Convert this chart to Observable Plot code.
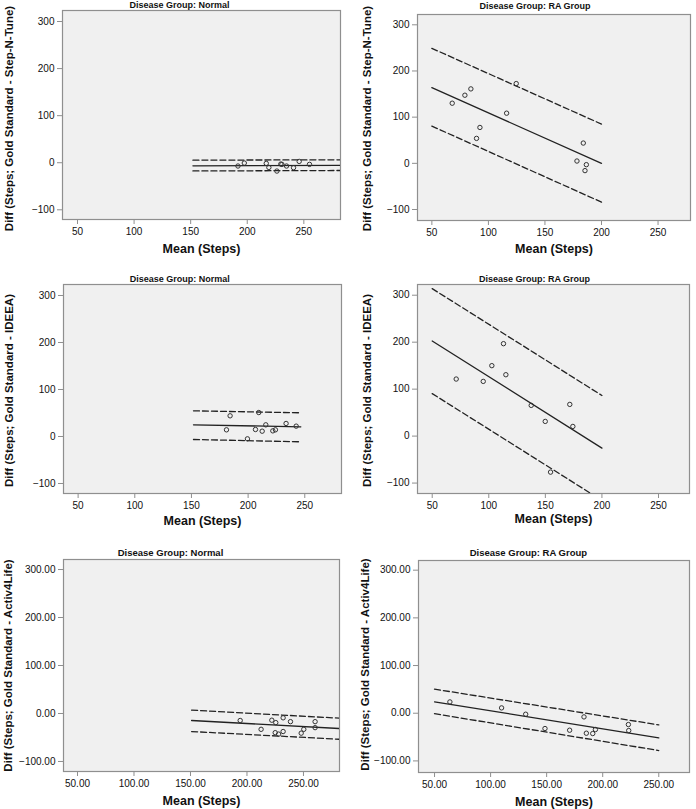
<!DOCTYPE html>
<html>
<head>
<meta charset="utf-8">
<script src="https://cdn.jsdelivr.net/npm/d3@7"></script>
<script src="https://cdn.jsdelivr.net/npm/@observablehq/plot@0.6"></script>
<style>
  html, body { margin: 0; padding: 0; background: #fff; }
  #wrap { position: relative; width: 696px; height: 809px; overflow: hidden; font-family: "Liberation Sans", Arial, sans-serif; }
  .panel { position: absolute; }
</style>
</head>
<body>
<div id="wrap"></div>
<script>
// ---------- tick labels ----------
const xTicks = [50, 100, 150, 200, 250];
const yTicks = [-100, 0, 100, 200, 300];

// ---------- texts ----------
const groupTitles = ["Disease Group: Normal", "Disease Group: RA Group"];
const yLabels = [
  "Diff (Steps; Gold Standard - Step-N-Tune)",
  "Diff (Steps; Gold Standard - IDEEA)",
  "Diff (Steps; Gold Standard - Activ4Life)"
];
const xLabel = "Mean (Steps)";

// ---------- Step-N-Tune, Normal ----------
const sntNormalMean = [191.8, 197.4, 216.8, 219.1, 226.2, 229.7, 230.6, 234.7, 240.9, 245.9, 255.0];
const sntNormalDiff = [-7, -0.7, -1.4, -10, -17.7, -2.8, -3.5, -7, -10.6, 2.8, -3.5];
const sntNormalLineX = [152, 282.4];
const sntNormalFit = [-6.5, -5.8];
const sntNormalUpper = [5.5, 6.2];
const sntNormalLower = [-17.5, -16.5];

// ---------- Step-N-Tune, RA ----------
const sntRaMean = [68, 79.2, 84.5, 89.5, 92.5, 116.1, 124.6, 178.3, 183.9, 185.4, 186.6];
const sntRaDiff = [130.2, 147.5, 161.2, 54, 77.7, 108.6, 172.7, 5, 43.9, -15.8, -2.9];
const sntRaLineX = [50, 200];
const sntRaFit = [164, 0];
const sntRaUpper = [249, 85];
const sntRaLower = [80.6, -84];

// ---------- IDEEA, Normal ----------
const ideeaNormalMean = [180.9, 184.1, 199.4, 206.5, 209.4, 212.4, 215.6, 221.8, 224.1, 233.5, 242.4];
const ideeaNormalDiff = [14.2, 44, -5, 14.9, 51, 11.3, 24.8, 12, 14.2, 27.7, 22];
const ideeaNormalLineX = [151.8, 246.5];
const ideeaNormalFit = [24.8, 20.6];
const ideeaNormalUpper = [54.6, 50.4];
const ideeaNormalLower = [-6.4, -11.3];

// ---------- IDEEA, RA ----------
const ideeaRaMean = [71.2, 95.1, 102.7, 113, 115.1, 137.5, 149.9, 154.6, 171.6, 174.3];
const ideeaRaDiff = [121.5, 116.5, 150, 196.8, 130.7, 65.4, 31.3, -76.7, 67.5, 20.6];
const ideeaRaLineX = [50, 200];
const ideeaRaFit = [202.5, -25.5];
const ideeaRaUpper = [314, 86.5];
const ideeaRaLower = [90.5, -137];

// ---------- Activ4Life, Normal ----------
const a4lNormalMean = [194, 212.5, 222, 225.5, 225, 228, 232, 232, 238.5, 248, 250.3, 260.3, 260.3];
const a4lNormalDiff = [-14.6, -33, -14, -19, -40, -43, -9, -37.6, -17, -41, -33, -17, -29.5];
const a4lNormalLineX = [151, 281.9];
const a4lNormalFit = [-14.6, -31.4];
const a4lNormalUpper = [7, -9.8];
const a4lNormalLower = [-37.6, -53.7];

// ---------- Activ4Life, RA ----------
const a4lRaMean = [63.7, 109.8, 131.3, 148.5, 170.5, 183.3, 185.4, 191.1, 193.5, 222.9, 223.2];
const a4lRaDiff = [23.7, 11.2, -2.1, -32.1, -35.6, -7.7, -41.9, -42.6, -34.2, -23.7, -36.3];
const a4lRaLineX = [50, 250];
const a4lRaFit = [24, -51.7];
const a4lRaUpper = [50.5, -24.4];
const a4lRaLower = [-1, -78.2];

// ---------- panels (layout) ----------
const panels = [
  {left: 0, top: 0, h: 270, title: groupTitles[0], ylab: yLabels[0], mean: sntNormalMean, diff: sntNormalDiff,
   lx: sntNormalLineX, fit: sntNormalFit, up: sntNormalUpper, lo: sntNormalLower,
   m: [10, 8, 51, 62], xd: [36.75, 282.4], yd: [-120.6, 323.4], dec: 0,
   tdx: -22, tdy: -5, ylx: 8.7, yly: 118, xly: 248, tfs: 9},
  {left: 348, top: 0, h: 270, title: groupTitles[1], ylab: yLabels[0], mean: sntRaMean, diff: sntRaDiff,
   lx: sntRaLineX, fit: sntRaFit, up: sntRaUpper, lo: sntRaLower,
   m: [14, 6, 50, 69], xd: [37.3, 278.7], yd: [-123.8, 322.3], dec: 0,
   tdx: -19, tdy: -8, ylx: 18.7, yly: 118, xly: 248, tfs: 9},
  {left: 0, top: 270, h: 270, title: groupTitles[0], ylab: yLabels[1], mean: ideeaNormalMean, diff: ideeaNormalDiff,
   lx: ideeaNormalLineX, fit: ideeaNormalFit, up: ideeaNormalUpper, lo: ideeaNormalLower,
   m: [14, 7, 47, 63], xd: [37.1, 282.4], yd: [-121.3, 323.4], dec: 0,
   tdx: -22.7, tdy: -5.7, ylx: 8.7, yly: 120, xly: 250.7, tfs: 9},
  {left: 348, top: 270, h: 270, title: groupTitles[1], ylab: yLabels[1], mean: ideeaRaMean, diff: ideeaRaDiff,
   lx: ideeaRaLineX, fit: ideeaRaFit, up: ideeaRaUpper, lo: ideeaRaLower,
   m: [14, 7, 47, 69], xd: [37, 277.4], yd: [-122.2, 322.8], dec: 0,
   tdx: -19, tdy: -5.7, ylx: 19, yly: 120, xly: 248.3, tfs: 9},
  {left: 0, top: 540, h: 269, title: groupTitles[0], ylab: yLabels[2], mean: a4lNormalMean, diff: a4lNormalDiff,
   lx: a4lNormalLineX, fit: a4lNormalFit, up: a4lNormalUpper, lo: a4lNormalLower,
   m: [19, 9, 38, 63], xd: [37.6, 281.9], yd: [-120.9, 320.9], dec: 2,
   tdx: -31, tdy: -7, ylx: 8, yly: 125, xly: 260.7, tfs: 9.5},
  {left: 348, top: 540, h: 269, title: groupTitles[1], ylab: yLabels[2], mean: a4lRaMean, diff: a4lRaDiff,
   lx: a4lRaLineX, fit: a4lRaFit, up: a4lRaUpper, lo: a4lRaLower,
   m: [20, 7, 37, 70], xd: [35.7, 277.4], yd: [-124.3, 320.3], dec: 2,
   tdx: -25.6, tdy: -7.7, ylx: 17, yly: 124, xly: 261, tfs: 9.5}
];

const font = '"Liberation Sans", Arial, sans-serif';
const wrap = document.getElementById("wrap");

for (const p of panels) {
  const [mt, mr, mb, ml] = p.m;
  const pts = p.mean.map((x, i) => ({x, y: p.diff[i]}));
  const seg = (ys) => p.lx.map((x, i) => ({x, y: ys[i]}));
  const fmt = p.dec ? d3.format(".2f") : d3.format("d");
  const frameCX = ml + (348 - ml - mr) / 2;
  const frameCY = mt + (p.h - mt - mb) / 2;
  const frameBottom = p.h - mb;

  const chart = Plot.plot({
    width: 348,
    height: p.h,
    marginTop: mt, marginRight: mr, marginBottom: mb, marginLeft: ml,
    style: {fontFamily: font, fontSize: "10px", background: "transparent", color: "#111", overflow: "visible"},
    x: {domain: p.xd},
    y: {domain: p.yd},
    marks: [
      Plot.frame({fill: "#f0f0f0", stroke: "#8f8f8f", strokeWidth: 1.2}),
      Plot.axisX({ticks: xTicks, tickFormat: fmt, tickSize: 5, tickPadding: 3, stroke: "#8f8f8f", fill: "#111", label: null}),
      Plot.axisY({ticks: yTicks, tickFormat: fmt, tickSize: 5, tickPadding: 3, stroke: "#8f8f8f", fill: "#111", label: null}),
      Plot.line(seg(p.up), {x: "x", y: "y", stroke: "#222", strokeWidth: 1.3, strokeDasharray: "6,3", clip: true}),
      Plot.line(seg(p.lo), {x: "x", y: "y", stroke: "#222", strokeWidth: 1.3, strokeDasharray: "6,3", clip: true}),
      Plot.line(seg(p.fit), {x: "x", y: "y", stroke: "#222", strokeWidth: 1.3, clip: true}),
      Plot.dot(pts, {x: "x", y: "y", r: 2.2, stroke: "#333", strokeWidth: 1, fill: "none"}),
      Plot.text([p.title], {frameAnchor: "top", text: d => d, dx: p.tdx, dy: p.tdy, lineAnchor: "middle",
        fontWeight: "bold", fontSize: p.tfs, fill: "#111"}),
      Plot.text([p.ylab], {frameAnchor: "left", text: d => d, rotate: -90, textAnchor: "middle", lineAnchor: "middle",
        dx: p.ylx - ml, dy: p.yly - frameCY, fontWeight: "bold", fontSize: 11.5, fill: "#111"}),
      Plot.text([xLabel], {frameAnchor: "bottom", text: d => d, textAnchor: "middle", lineAnchor: "middle",
        dy: p.xly - frameBottom, fontWeight: "bold", fontSize: 12.5, fill: "#111"})
    ]
  });
  const div = document.createElement("div");
  div.className = "panel";
  div.style.left = p.left + "px";
  div.style.top = p.top + "px";
  div.appendChild(chart);
  wrap.appendChild(div);
}
</script>
</body>
</html>
